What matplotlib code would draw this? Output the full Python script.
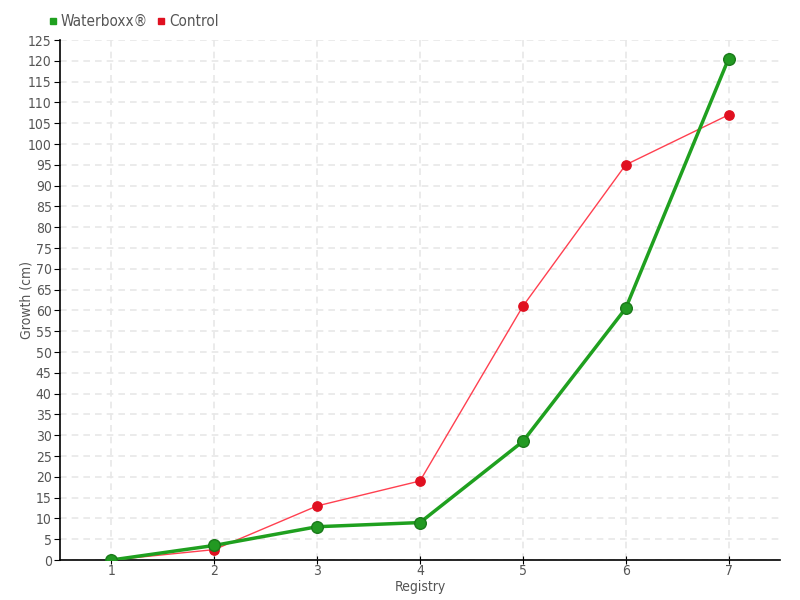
import numpy as np
import matplotlib
matplotlib.use("Agg")
import matplotlib.pyplot as plt
from matplotlib.lines import Line2D

registry = [1, 2, 3, 4, 5, 6, 7]
waterboxx = [0, 3.5, 8, 9, 28.5, 60.5, 120.5]
control = [0, 2.5, 13, 19, 61, 95, 107]

plt.rcParams['font.family'] = ['DejaVu Sans']
plt.rcParams['font.stretch'] = 'condensed'
text_color = '#555555'

fig = plt.figure(figsize=(8, 6), dpi=100)
ax = fig.add_axes([60 / 800, 40 / 600, 720 / 800, 520 / 600])

ax.plot(registry, control, color='#ff4050', lw=1, zorder=3)
ax.scatter(registry, control, s=45, color='#e01020', zorder=4)
ax.plot(registry, waterboxx, color='#1fa01f', lw=2.5, zorder=5)
ax.scatter(registry, waterboxx, s=70, color='#229922', edgecolor='#1a7a1a', lw=1, zorder=6)

ax.set_xlim(0.5, 7.5)
ax.set_ylim(0, 125)
ax.set_xticks(registry)
ax.set_yticks(np.arange(0, 126, 5))
ax.grid(True, color='#e8e8e8', ls=(0, (4, 3)), lw=1.2)
ax.set_axisbelow(True)
for s in ['top', 'right']:
    ax.spines[s].set_visible(False)
ax.spines['left'].set_linewidth(1.2)
ax.spines['bottom'].set_linewidth(1.2)
ax.tick_params(axis='y', length=4, pad=2, labelsize=10, labelcolor=text_color)
ax.tick_params(axis='x', direction='inout', length=6, pad=0, labelsize=10, labelcolor=text_color)
ax.set_xlabel('Registry', fontsize=10, color=text_color, va='center')
ax.set_ylabel('Growth (cm)', fontsize=10, color=text_color, va='center')
ax.xaxis.set_label_coords(0.5, -27 / 520)
ax.yaxis.set_label_coords(-33 / 720, 0.5)

handles = [Line2D([], [], marker='s', ls='', color='#1fa01f', markersize=4.5),
           Line2D([], [], marker='s', ls='', color='#e01020', markersize=4.5)]
fig.legend(handles, ['Waterboxx®', 'Control'], loc='upper left',
           bbox_to_anchor=(48 / 800, 1 - 14 / 600), ncol=2, frameon=False,
           fontsize=11, labelcolor=text_color, handlelength=0.6, handletextpad=0.2,
           columnspacing=0.6, borderaxespad=0, borderpad=0)

fig.savefig('out.png', dpi=100)
